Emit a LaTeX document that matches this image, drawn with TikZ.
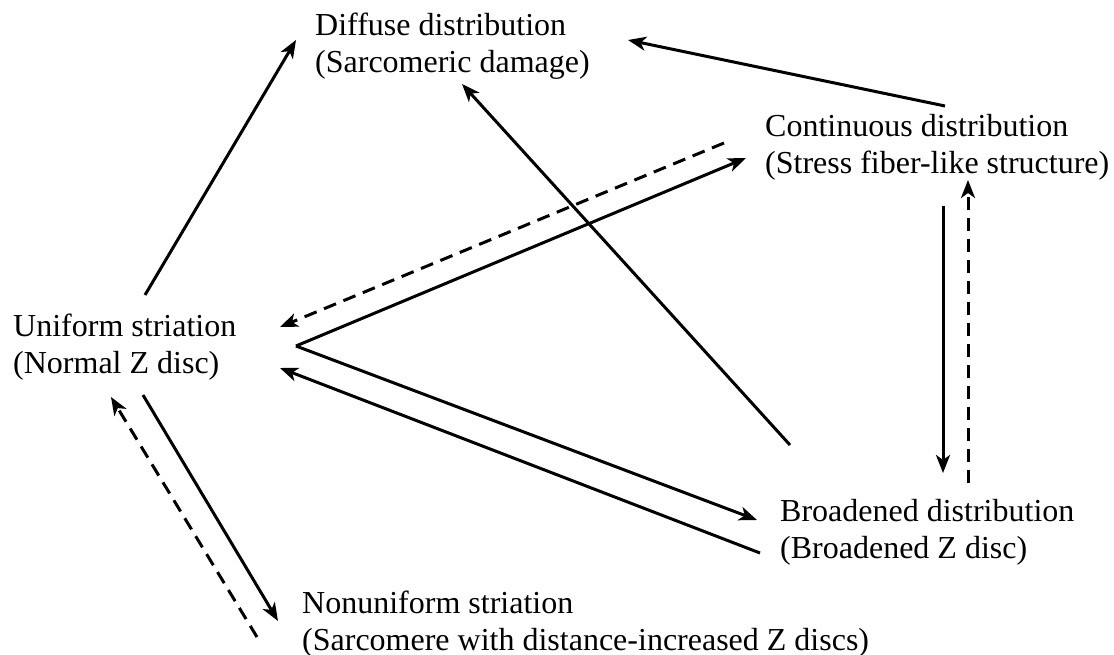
\documentclass[tikz,border=0pt]{standalone}
\usepackage{fontspec}
\setmainfont{Liberation Serif}
\usetikzlibrary{arrows.meta}
\tikzset{
  lbl/.style={anchor=base west, inner sep=0pt, font=\fontsize{32}{37}\selectfont},
  conn/.style={line width=3pt, -{Stealth[length=18pt,width=14pt,inset=5pt]}},
  dconn/.style={conn, dash pattern=on 13pt off 8pt},
}
\newcommand{\twoline}[2]{\begin{tabular}[t]{@{}l@{}}#1\\#2\end{tabular}}
\begin{document}
\begin{tikzpicture}[x=1pt,y=-1pt]
\useasboundingbox (0,0) rectangle (1114,655);
% labels
\node[lbl] (dif) at (315,36) {\twoline{Diffuse distribution}{(Sarcomeric damage)}};
\node[lbl] (con) at (765,137) {\twoline{Continuous distribution}{(Stress fiber-like structure)}};
\node[lbl] (uni) at (13,336) {\twoline{Uniform striation}{(Normal Z disc)}};
\node[lbl] (bro) at (780,521) {\twoline{Broadened distribution}{(Broadened Z disc)}};
\node[lbl] (non) at (302,613) {\twoline{Nonuniform striation}{(Sarcomere with distance-increased Z discs)}};
% connector end points
\coordinate (uA) at (145,295);
\coordinate (dA) at (296,40);
\coordinate (cB) at (945,106);
\coordinate (dB) at (628,40);
\coordinate (bC) at (790,445);
\coordinate (dC) at (462,84);
\coordinate (uV) at (296,346);
\coordinate (cV) at (746,158);
\coordinate (bV) at (757,520);
\coordinate (cD) at (724,143);
\coordinate (uD) at (280,327);
\coordinate (bL) at (760,553);
\coordinate (uL) at (280,368);
\coordinate (cS) at (943,206);
\coordinate (bS) at (943,473);
\coordinate (bT) at (968,483);
\coordinate (cT) at (968,180);
\coordinate (uN) at (143,395);
\coordinate (nN) at (278,621);
\coordinate (nM) at (257,637);
\coordinate (uM) at (111,397);
% connectors
\draw[conn] (uA) -- (dA);
\draw[conn] (cB) -- (dB);
\draw[conn] (bC) -- (dC);
\draw[conn] (uV) -- (cV);
\draw[conn] (uV) -- (bV);
\draw[dconn] (cD) -- (uD);
\draw[conn] (bL) -- (uL);
\draw[conn] (cS) -- (bS);
\draw[dconn] (bT) -- (cT);
\draw[conn] (uN) -- (nN);
\draw[dconn] (nM) -- (uM);
\end{tikzpicture}
\end{document}
